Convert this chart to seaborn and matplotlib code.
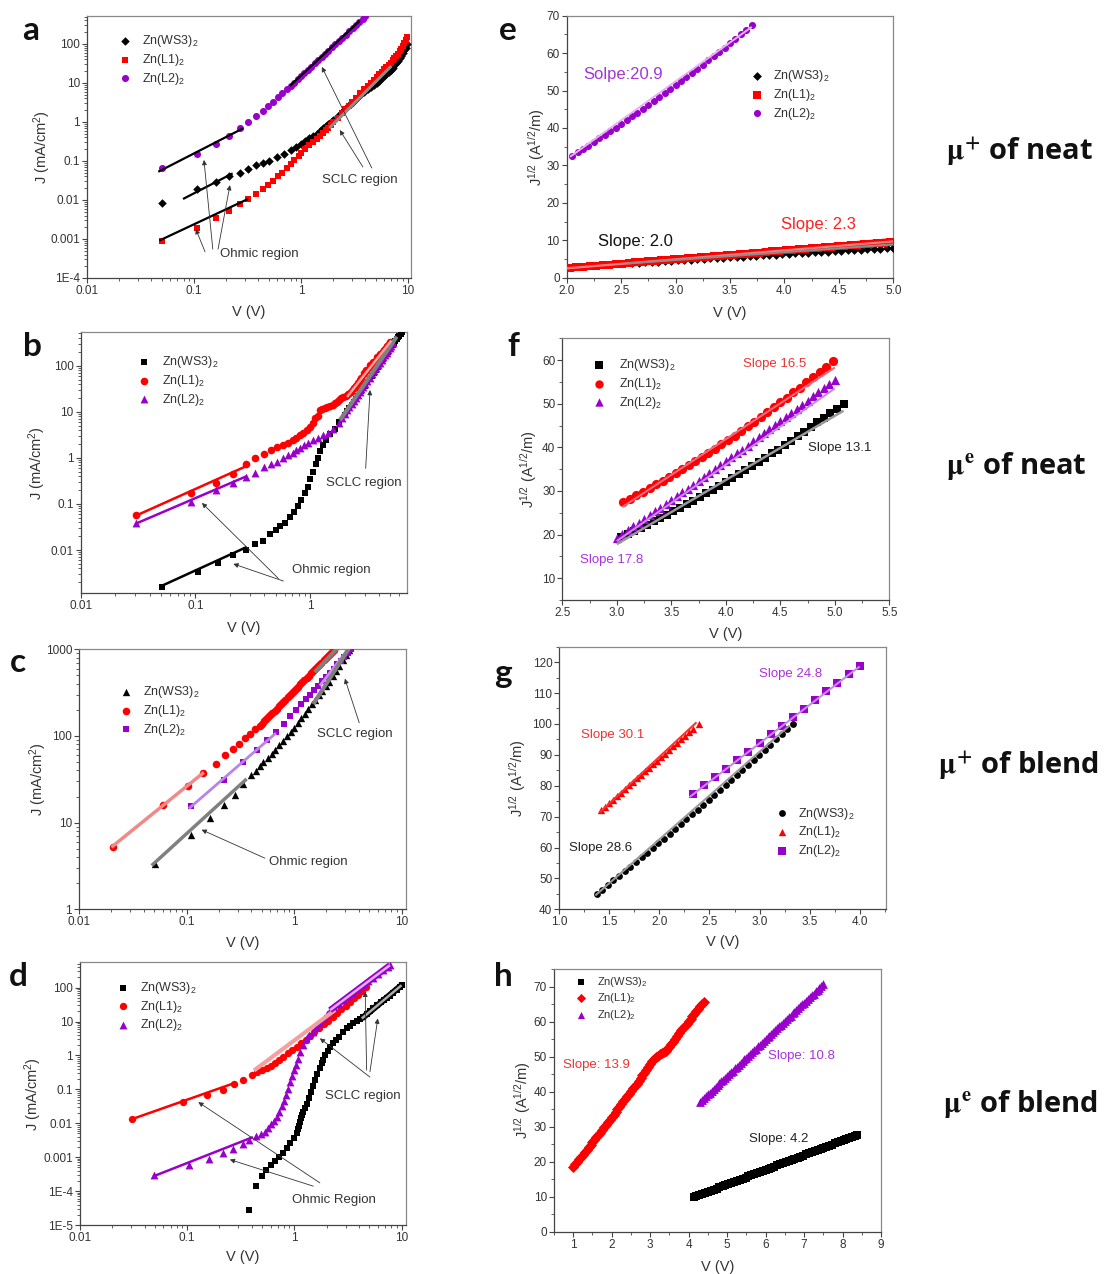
import matplotlib
matplotlib.use("Agg")
import matplotlib.pyplot as plt
import seaborn as sns
from matplotlib.ticker import LogLocator, NullFormatter, AutoMinorLocator

sns.set_theme(style="white")
plt.rcParams["font.family"] = ["Liberation Sans", "DejaVu Sans"]
plt.rcParams["mathtext.fontset"] = "custom"
plt.rcParams["mathtext.rm"] = "Liberation Sans"
plt.rcParams["mathtext.it"] = "Liberation Sans:italic"
plt.rcParams["mathtext.bf"] = "Liberation Sans:bold"

# ---------------- data ----------------
LABELS = ["Zn(WS3)$_2$", "Zn(L1)$_2$", "Zn(L2)$_2$"]

# panel a
a_ws3_v = [0.05, 0.106, 0.16, 0.214, 0.27, 0.32, 0.38, 0.44, 0.5, 0.6, 0.7, 0.8, 0.9, 1.0, 1.1, 1.2, 1.3, 1.4, 1.5, 1.6,
           1.7, 1.8, 1.9, 2.0, 2.2, 2.4, 2.6, 2.8, 3.0, 3.3, 3.6, 3.9, 4.2, 4.5, 4.8, 5.1, 5.4, 5.7, 6.0, 6.3, 6.6,
           6.9, 7.2, 7.5, 7.8, 8.1, 8.4, 8.7, 9.0, 9.3, 9.6, 9.9]
a_ws3_j = [0.0085, 0.0188, 0.029, 0.040, 0.050, 0.062, 0.079, 0.091, 0.10, 0.125, 0.155, 0.19, 0.23, 0.28, 0.33, 0.38,
           0.44, 0.50, 0.58, 0.68, 0.78, 0.9, 1.02, 1.15, 1.45, 1.8, 2.2, 2.65, 3.1, 3.9, 4.8, 5.8, 6.9, 7.8, 8.9,
           10.1, 11.5, 13, 14.8, 16.8, 19, 21.6, 24.6, 28, 32, 37, 43, 50, 58, 68, 80, 100]
a_l1_v = [0.05, 0.106, 0.16, 0.214, 0.27, 0.32, 0.38, 0.44, 0.49, 0.55, 0.61, 0.67, 0.74, 0.8, 0.87, 0.95, 1.0, 1.1,
          1.2, 1.3, 1.4, 1.5, 1.6, 1.7, 1.8, 1.9, 2.0, 2.2, 2.4, 2.6, 2.8, 3.0, 3.3, 3.6, 3.9, 4.2, 4.5, 4.8, 5.1,
          5.4, 5.7, 6.0, 6.3, 6.6, 6.9, 7.2, 7.5, 7.8, 8.1, 8.4, 8.7, 9.0, 9.3, 9.6, 9.9]
a_l1_j = [0.0009, 0.0019, 0.0034, 0.0052, 0.0079, 0.0104, 0.0143, 0.0195, 0.024, 0.031, 0.040, 0.050, 0.065, 0.084,
          0.106, 0.134, 0.157, 0.2, 0.25, 0.31, 0.37, 0.44, 0.52, 0.61, 0.72, 0.84, 0.98, 1.3, 1.68, 2.1, 2.6, 3.2,
          4.2, 5.4, 6.8, 8.3, 10, 12, 14.2, 16.6, 19.3, 22.3, 25.6, 29.3, 33.4, 38, 43, 49, 56, 64, 74, 90, 105,
          125, 150]
a_l2_v = [0.05, 0.106, 0.16, 0.214, 0.27, 0.32, 0.38, 0.44, 0.49, 0.55, 0.61, 0.67, 0.74, 0.8, 0.86, 0.93, 1.0, 1.08,
          1.16, 1.25, 1.35, 1.45, 1.56, 1.68, 1.81, 1.95, 2.1, 2.26, 2.43, 2.62, 2.82, 3.04, 3.27, 3.52, 3.79, 4.0]
a_l2_j = [0.065, 0.15, 0.27, 0.44, 0.69, 1.0, 1.4, 1.95, 2.57, 3.3, 4.3, 5.4, 6.9, 8.4, 10.1, 12.4, 14.9, 18.1, 21.7,
          26.3, 32, 38, 46, 56, 67, 82, 99, 119, 143, 173, 209, 253, 305, 368, 444, 510]

# panel b
b_ws3_v = [0.051, 0.106, 0.158, 0.214, 0.277, 0.33, 0.39, 0.445, 0.5, 0.55, 0.6, 0.667, 0.725, 0.78, 0.84, 0.9, 0.95,
           1.0, 1.06, 1.12, 1.17, 1.23, 1.3, 1.37, 1.49, 1.65, 1.8, 2.0, 2.1, 2.2, 2.3, 2.4, 2.5, 2.6, 2.7, 2.8, 2.9,
           3.0, 3.15, 3.3, 3.45, 3.6, 3.75, 3.9, 4.05, 4.2, 4.35, 4.5, 4.65, 4.8, 4.95, 5.1, 5.25, 5.4, 5.55, 5.7,
           5.85, 6.0, 6.15, 6.3]
b_ws3_j = [0.0016, 0.0033, 0.0053, 0.0077, 0.0102, 0.0133, 0.016, 0.022, 0.027, 0.033, 0.039, 0.052, 0.067, 0.089,
           0.12, 0.17, 0.23, 0.34, 0.5, 0.73, 1.0, 1.4, 1.9, 2.4, 3.3, 4.3, 5.9, 8.6, 10.2, 12.1, 14.2, 16.6, 19.2,
           22.1, 25.3, 28.9, 32.8, 37, 44, 52, 61, 71, 82, 95, 109, 124, 141, 159, 179, 201, 225, 250, 278, 307,
           339, 373, 410, 448, 490, 535]
b_l1_v = [0.0304, 0.091, 0.151, 0.214, 0.277, 0.33, 0.397, 0.454, 0.51, 0.575, 0.64, 0.705, 0.76, 0.81, 0.87, 0.93,
          1.0, 1.05, 1.11, 1.16, 1.23, 1.27, 1.34, 1.4, 1.5, 1.58, 1.65, 1.72, 1.8, 1.87, 1.95, 2.05, 2.15, 2.25, 2.4,
          2.5, 2.6, 2.7, 2.8, 2.95, 3.1, 3.3, 3.5, 3.8, 4.1, 4.4, 4.7, 5.0]
b_l1_j = [0.057, 0.173, 0.286, 0.44, 0.75, 1.0, 1.2, 1.47, 1.68, 1.92, 2.15, 2.42, 2.72, 3.1, 3.5, 4.0, 4.7, 5.8, 7.2,
          8.0, 10.9, 11.2, 11.8, 12.5, 13.3, 14.2, 15.2, 16.5, 18, 19.5, 21.2, 22.5, 24.2, 26.5, 32, 36, 42, 48.8,
          55, 68, 80, 103, 120, 151, 180, 219, 270, 331]
b_l2_v = [0.0304, 0.091, 0.151, 0.214, 0.277, 0.33, 0.397, 0.454, 0.51, 0.575, 0.64, 0.705, 0.76, 0.81, 0.88, 0.96,
          1.06, 1.17, 1.3, 1.43, 1.59, 1.77, 1.9, 2.0, 2.1, 2.2, 2.3, 2.4, 2.5, 2.6, 2.7, 2.8, 2.9, 3.0, 3.15, 3.3,
          3.45, 3.6, 3.75, 3.9, 4.05, 4.2, 4.35, 4.5, 4.65, 4.8, 4.95, 5.1, 5.3]
b_l2_j = [0.039, 0.11, 0.198, 0.286, 0.386, 0.48, 0.62, 0.73, 0.83, 0.97, 1.14, 1.28, 1.47, 1.65, 1.88, 2.12, 2.42,
          2.72, 3.06, 3.5, 4.3, 5.8, 7.4, 9.0, 10.7, 12.7, 14.9, 17.4, 20.2, 23.3, 26.7, 30.5, 34.6, 39.2, 46.8, 55,
          65.3, 76, 88, 102, 117, 133, 151, 171, 193, 217, 242, 270, 311]

# panel c
c_ws3_v = [0.0509, 0.109, 0.165, 0.222, 0.28, 0.337, 0.40, 0.44, 0.48, 0.52, 0.57, 0.62, 0.67, 0.73, 0.79, 0.86, 0.93,
           1.0, 1.08, 1.17, 1.26, 1.36, 1.47, 1.58, 1.7, 1.83, 1.97, 2.12, 2.28, 2.45, 2.63, 2.83, 3.04, 3.27]
c_ws3_j = [3.35, 7.24, 11.3, 15.8, 20.7, 27.7, 35, 39.9, 45, 49.9, 56.2, 62.6, 69.4, 78.6, 88.3, 100, 112, 125, 142,
           161, 181, 205, 232, 261, 295, 333, 376, 424, 489, 562, 647, 747, 860, 994]
c_l1_v = [0.0209, 0.061, 0.104, 0.143, 0.188, 0.228, 0.268, 0.31, 0.35, 0.39, 0.43, 0.48, 0.5, 0.525, 0.55, 0.575, 0.6,
          0.63, 0.66, 0.69, 0.72, 0.755, 0.79, 0.83, 0.87, 0.91, 0.95, 0.995, 1.04, 1.09, 1.14, 1.195, 1.25, 1.31,
          1.37, 1.435, 1.5, 1.57, 1.64, 1.72, 1.8, 1.885, 1.97, 2.06, 2.15, 2.25, 2.35]
c_l1_j = [5.3, 15.8, 26.2, 37.4, 48, 60, 71.6, 81.8, 94, 106, 119, 131, 138, 147, 156, 165, 174, 185, 196, 207, 219,
          233, 247, 263, 279, 295, 312, 330, 350, 371, 393, 417, 442, 468, 496, 526, 557, 590, 624, 662, 702, 744,
          787, 833, 880, 932, 985]
c_l2_v = [0.111, 0.223, 0.337, 0.449, 0.556, 0.68, 0.8, 0.92, 1.04, 1.16, 1.28, 1.4, 1.53, 1.67, 1.82, 1.98, 2.15,
          2.33, 2.52, 2.72, 2.93, 3.15, 3.4]
c_l2_j = [15.4, 30.8, 49.8, 69.7, 89, 111, 139, 168, 199, 231, 264, 299, 337, 380, 428, 480, 537, 600, 668, 741, 821,
          907, 1007]

# panel d
d_ws3_v = [0.38, 0.436, 0.494, 0.54, 0.6, 0.66, 0.72, 0.79, 0.85, 0.92, 1.0, 1.05, 1.075, 1.1, 1.125, 1.15, 1.175, 1.2,
           1.25, 1.3, 1.36, 1.43, 1.5, 1.56, 1.64, 1.72, 1.8, 1.86, 1.95, 2.05, 2.15, 2.31, 2.45, 2.6, 2.86, 3.1, 3.3,
           3.55, 3.8, 4.1, 4.4, 4.75, 5.1, 5.45, 5.9, 6.4, 6.8, 7.26, 7.8, 8.4, 9.0, 9.67, 10.2]
d_ws3_j = [2.7e-5, 1.37e-4, 2.7e-4, 4.3e-4, 5.7e-4, 7.5e-4, 1.0e-3, 1.35e-3, 1.9e-3, 2.7e-3, 3.6e-3, 5.0e-3, 6.6e-3,
           8.5e-3, 0.011, 0.014, 0.0175, 0.021, 0.029, 0.038, 0.055, 0.085, 0.13, 0.187, 0.28, 0.42, 0.6, 0.73, 1.0,
           1.35, 1.72, 2.26, 2.9, 3.6, 5.0, 6.3, 7.5, 8.8, 10.3, 12, 13.8, 17, 20.5, 24.3, 30, 37, 43, 48, 58, 72,
           88, 106, 120]
d_l1_v = [0.0303, 0.0905, 0.152, 0.214, 0.274, 0.33, 0.4, 0.45, 0.5, 0.55, 0.6, 0.66, 0.72, 0.79, 0.87, 0.95, 1.05,
          1.15, 1.27, 1.4, 1.54, 1.7, 1.87, 2.06, 2.27, 2.5, 2.75, 3.0, 3.3, 3.6, 3.95, 4.3, 4.7]
d_l1_j = [0.0135, 0.042, 0.066, 0.099, 0.146, 0.187, 0.257, 0.32, 0.38, 0.44, 0.5, 0.6, 0.73, 0.9, 1.15, 1.45, 1.8,
          2.3, 2.95, 3.8, 4.9, 6.3, 8.2, 10.6, 13.8, 17.8, 23, 29, 37, 48, 62, 80, 105]
d_l2_v = [0.049, 0.104, 0.159, 0.214, 0.27, 0.33, 0.38, 0.44, 0.49, 0.53, 0.57, 0.61, 0.65, 0.685, 0.72, 0.76, 0.8,
          0.84, 0.88, 0.92, 0.96, 1.0, 1.04, 1.08, 1.13, 1.2, 1.28, 1.38, 1.48, 1.6, 1.73, 1.87, 2.0, 2.15, 2.35, 2.6,
          2.9, 3.2, 3.55, 3.95, 4.4, 4.9, 5.45, 6.05, 6.75, 7.5, 7.8]
d_l2_j = [0.00029, 0.0006, 0.0009, 0.0013, 0.0018, 0.0025, 0.0033, 0.0042, 0.0047, 0.0056, 0.0072, 0.0093, 0.012,
          0.0155, 0.022, 0.032, 0.046, 0.068, 0.1, 0.16, 0.24, 0.37, 0.53, 0.78, 1.28, 2.0, 2.97, 4.0, 5.0, 6.8, 9.2,
          12.5, 16.5, 21.7, 26.8, 34, 44, 55.6, 71, 92, 119, 153, 196, 252, 328, 419, 461]

# panel e
e_ws3_v = [2.6, 2.66, 2.72, 2.78, 2.84, 2.9, 2.96, 3.02, 3.08, 3.14, 3.2, 3.26, 3.32, 3.38, 3.44, 3.5, 3.56, 3.62,
           3.68, 3.74, 3.8, 3.86, 3.92, 3.98, 4.04, 4.1, 4.16, 4.22, 4.28, 4.34, 4.4, 4.46, 4.52, 4.58, 4.64, 4.7,
           4.76, 4.82, 4.88, 4.94, 5.0]
e_ws3_j = [3.9, 4.0, 4.11, 4.21, 4.31, 4.41, 4.52, 4.62, 4.72, 4.82, 4.93, 5.03, 5.13, 5.23, 5.34, 5.44, 5.54, 5.64,
           5.75, 5.85, 5.95, 6.05, 6.16, 6.26, 6.36, 6.47, 6.57, 6.67, 6.77, 6.88, 6.98, 7.08, 7.18, 7.29, 7.39, 7.49,
           7.59, 7.7, 7.8, 7.9, 8.0]
e_l1_v = [2.03, 2.09, 2.15, 2.21, 2.27, 2.33, 2.39, 2.45, 2.51, 2.57, 2.63, 2.69, 2.75, 2.81, 2.87, 2.93, 2.99, 3.05,
          3.11, 3.17, 3.23, 3.29, 3.35, 3.41, 3.47, 3.53, 3.59, 3.65, 3.71, 3.77, 3.83, 3.89, 3.95, 4.01, 4.07, 4.13,
          4.19, 4.25, 4.31, 4.37, 4.43, 4.49, 4.55, 4.61, 4.67, 4.73, 4.79, 4.85, 4.91, 4.97]
e_l1_j = [2.67, 2.81, 2.95, 3.09, 3.23, 3.37, 3.51, 3.65, 3.79, 3.93, 4.07, 4.21, 4.35, 4.49, 4.63, 4.77, 4.91, 5.05,
          5.19, 5.33, 5.47, 5.61, 5.75, 5.89, 6.03, 6.17, 6.31, 6.44, 6.58, 6.72, 6.86, 7.0, 7.14, 7.28, 7.42, 7.56,
          7.7, 7.84, 7.98, 8.12, 8.26, 8.4, 8.54, 8.68, 8.82, 8.96, 9.1, 9.24, 9.38, 9.52]
e_l2_v = [2.05, 2.1, 2.15, 2.2, 2.25, 2.3, 2.35, 2.4, 2.45, 2.5, 2.55, 2.6, 2.65, 2.7, 2.75, 2.8, 2.85, 2.9, 2.95,
          3.0, 3.05, 3.1, 3.15, 3.2, 3.25, 3.3, 3.35, 3.4, 3.45, 3.5, 3.55, 3.6, 3.65, 3.7]
e_l2_j = [32.6, 33.5, 34.4, 35.3, 36.3, 37.2, 38.2, 39.1, 40.1, 41.1, 42.1, 43.1, 44.1, 45.1, 46.1, 47.2, 48.2, 49.3,
          50.3, 51.4, 52.5, 53.6, 54.7, 55.8, 56.9, 58.1, 59.2, 60.4, 61.5, 62.7, 63.9, 65.1, 66.3, 67.5]

# panel f
f_ws3_v = [3.04, 3.1, 3.16, 3.22, 3.28, 3.34, 3.4, 3.46, 3.52, 3.58, 3.64, 3.7, 3.76, 3.82, 3.88, 3.94, 4.0, 4.06,
           4.12, 4.18, 4.24, 4.3, 4.36, 4.42, 4.48, 4.54, 4.6, 4.66, 4.72, 4.78, 4.84, 4.9, 4.96, 5.02, 5.08]
f_ws3_j = [19.5, 20.2, 20.9, 21.6, 22.3, 23.1, 23.8, 24.6, 25.4, 26.2, 27.0, 27.8, 28.6, 29.5, 30.3, 31.2, 32.1, 33.0,
           33.9, 34.8, 35.7, 36.6, 37.6, 38.6, 39.5, 40.5, 41.5, 42.6, 43.6, 44.6, 45.7, 46.8, 47.8, 48.9, 50.0]
f_l1_v = [3.06, 3.12, 3.18, 3.24, 3.3, 3.36, 3.42, 3.48, 3.54, 3.6, 3.66, 3.72, 3.78, 3.84, 3.9, 3.96, 4.02, 4.08,
          4.14, 4.2, 4.26, 4.32, 4.38, 4.44, 4.5, 4.56, 4.62, 4.68, 4.74, 4.8, 4.86, 4.92, 4.98]
f_l1_j = [27.4, 28.2, 29.0, 29.8, 30.6, 31.5, 32.3, 33.2, 34.1, 35.0, 35.9, 36.9, 37.8, 38.8, 39.7, 40.7, 41.7, 42.7,
          43.8, 44.8, 45.9, 47.0, 48.1, 49.2, 50.3, 51.4, 52.6, 53.7, 54.9, 56.1, 57.3, 58.5, 59.7]
f_l2_v = [3.0, 3.05, 3.1, 3.15, 3.2, 3.25, 3.3, 3.35, 3.4, 3.45, 3.5, 3.55, 3.6, 3.65, 3.7, 3.75, 3.8, 3.85, 3.9,
          3.95, 4.0, 4.05, 4.1, 4.15, 4.2, 4.25, 4.3, 4.35, 4.4, 4.45, 4.5, 4.55, 4.6, 4.65, 4.7, 4.75, 4.8, 4.85,
          4.9, 4.95, 5.0]
f_l2_j = [19.3, 20.2, 21.0, 21.9, 22.7, 23.6, 24.4, 25.3, 26.2, 27.0, 27.9, 28.8, 29.7, 30.5, 31.4, 32.3, 33.2, 34.1,
          35.0, 35.9, 36.8, 37.7, 38.6, 39.5, 40.4, 41.4, 42.3, 43.2, 44.1, 45.1, 46.0, 46.9, 47.9, 48.8, 49.8, 50.7,
          51.7, 52.6, 53.6, 54.5, 55.5]

# panel g
g_ws3_v = [1.373, 1.429, 1.485, 1.541, 1.597, 1.653, 1.709, 1.765, 1.821, 1.877, 1.933, 1.989, 2.045, 2.101, 2.157,
           2.213, 2.269, 2.325, 2.381, 2.437, 2.493, 2.549, 2.605, 2.661, 2.717, 2.773, 2.829, 2.885, 2.941, 2.997,
           3.053, 3.109, 3.165, 3.221, 3.277, 3.333]
g_ws3_j = [45.0, 46.4, 47.9, 49.4, 50.9, 52.3, 53.8, 55.3, 56.8, 58.3, 59.9, 61.4, 62.9, 64.5, 66.0, 67.6, 69.1, 70.7,
           72.3, 73.8, 75.4, 77.0, 78.6, 80.2, 81.8, 83.5, 85.1, 86.7, 88.3, 90.0, 91.6, 93.3, 95.0, 96.6, 98.3, 100.0]
g_l1_v = [1.42, 1.46, 1.5, 1.54, 1.58, 1.62, 1.66, 1.7, 1.74, 1.78, 1.82, 1.86, 1.9, 1.94, 1.98, 2.02, 2.06, 2.1, 2.14,
          2.18, 2.22, 2.26, 2.3, 2.34, 2.4]
g_l1_j = [72.0, 73.2, 74.3, 75.5, 76.6, 77.8, 78.9, 80.1, 81.2, 82.4, 83.5, 84.7, 85.8, 87.0, 88.1, 89.3, 90.4, 91.6,
          92.7, 93.9, 95.0, 96.2, 97.3, 98.5, 100.0]
g_l2_v = [2.333, 2.444, 2.555, 2.667, 2.778, 2.889, 3.0, 3.111, 3.222, 3.333, 3.444, 3.555, 3.667, 3.778, 3.889, 4.0]
g_l2_j = [77.3, 80.1, 82.8, 85.4, 88.4, 90.9, 93.8, 96.7, 99.4, 102.1, 104.9, 107.6, 110.5, 113.2, 116.1, 118.6]

# panel h
h_ws3_v = [4.13, 4.2, 4.28, 4.35, 4.43, 4.5, 4.58, 4.65, 4.73, 4.8, 4.88, 4.95, 5.03, 5.1, 5.18, 5.25, 5.33, 5.4,
           5.48, 5.55, 5.63, 5.7, 5.78, 5.85, 5.93, 6.0, 6.08, 6.15, 6.23, 6.3, 6.38, 6.45, 6.53, 6.6, 6.68, 6.75,
           6.83, 6.9, 6.98, 7.05, 7.13, 7.2, 7.28, 7.35, 7.43, 7.5, 7.58, 7.65, 7.73, 7.8, 7.88, 7.95, 8.03, 8.1,
           8.18, 8.25, 8.33, 8.38]
h_ws3_j = [9.8, 10.1, 10.43, 10.74, 11.06, 11.37, 11.69, 12.0, 12.31, 12.63, 12.94, 13.26, 13.57, 13.89, 14.2, 14.52,
           14.83, 15.14, 15.46, 15.77, 16.09, 16.4, 16.71, 17.03, 17.34, 17.66, 17.97, 18.29, 18.6, 18.91, 19.23,
           19.54, 19.86, 20.17, 20.48, 20.8, 21.11, 21.43, 21.74, 22.06, 22.37, 22.68, 23.0, 23.31, 23.63, 23.94,
           24.26, 24.57, 24.88, 25.2, 25.51, 25.83, 26.14, 26.46, 26.77, 27.08, 27.4, 27.6]
h_l1_v = [1.0, 1.05, 1.1, 1.15, 1.2, 1.25, 1.3, 1.35, 1.4, 1.45, 1.5, 1.55, 1.6, 1.65, 1.7, 1.75, 1.8, 1.85, 1.9, 1.95,
          2.0, 2.05, 2.1, 2.15, 2.2, 2.25, 2.3, 2.35, 2.4, 2.45, 2.5, 2.55, 2.6, 2.65, 2.7, 2.75, 2.8, 2.85, 2.9,
          2.95, 3.0, 3.05, 3.1, 3.15, 3.2, 3.25, 3.3, 3.35, 3.4, 3.45, 3.5, 3.55, 3.6, 3.65, 3.7, 3.75, 3.8, 3.85,
          3.9, 3.95, 4.0, 4.05, 4.1, 4.15, 4.2, 4.25, 4.3, 4.35, 4.4]
h_l1_j = [18.6, 19.3, 20.0, 20.7, 21.4, 22.0, 22.7, 23.4, 24.1, 24.8, 25.5, 26.2, 26.9, 27.6, 28.3, 29.0, 29.8, 30.5,
          31.2, 31.9, 32.7, 33.4, 34.2, 34.9, 35.7, 36.4, 37.2, 37.9, 38.7, 39.4, 40.2, 40.9, 41.6, 42.3, 43.0, 43.8,
          44.6, 45.4, 46.3, 47.1, 48.0, 48.7, 49.4, 49.9, 50.3, 50.6, 51.0, 51.3, 51.7, 52.2, 52.8, 53.5, 54.2, 55.0,
          55.9, 56.7, 57.5, 58.1, 58.8, 59.4, 60.1, 60.8, 61.5, 62.2, 63.0, 63.7, 64.4, 65.0, 65.7]
h_l2_v = [4.3, 4.35, 4.4, 4.45, 4.5, 4.55, 4.6, 4.65, 4.7, 4.75, 4.8, 4.85, 4.9, 4.95, 5.0, 5.05, 5.1, 5.15, 5.2, 5.25,
          5.3, 5.35, 5.4, 5.45, 5.5, 5.55, 5.6, 5.65, 5.7, 5.75, 5.8, 5.85, 5.9, 5.95, 6.0, 6.05, 6.1, 6.15, 6.2,
          6.25, 6.3, 6.35, 6.4, 6.45, 6.5, 6.55, 6.6, 6.65, 6.7, 6.75, 6.8, 6.85, 6.9, 6.95, 7.0, 7.05, 7.1, 7.15,
          7.2, 7.25, 7.3, 7.35, 7.4, 7.45, 7.5]
h_l2_j = [37.1, 37.6, 38.2, 38.7, 39.2, 39.7, 40.3, 40.8, 41.3, 41.8, 42.4, 42.9, 43.4, 43.9, 44.5, 45.0, 45.5, 46.0,
          46.6, 47.1, 47.6, 48.1, 48.7, 49.2, 49.7, 50.2, 50.8, 51.3, 51.8, 52.3, 52.9, 53.4, 53.9, 54.4, 55.0, 55.5,
          56.0, 56.5, 57.0, 57.6, 58.1, 58.6, 59.1, 59.6, 60.2, 60.7, 61.2, 61.7, 62.3, 62.8, 63.3, 63.8, 64.4, 64.9,
          65.4, 65.9, 66.5, 67.0, 67.5, 68.0, 68.6, 69.1, 69.6, 70.1, 70.7]

# ---------------- figure helpers ----------------
W, H = 1111, 1274
fig = plt.figure(figsize=(W / 100, H / 100), dpi=100)
fig.patch.set_facecolor("white")

BLACK, RED, PURPLE = "#000000", "#ff0000", "#9900cc"
TXT = "#333333"


def make_ax(box, log):
    l, t, r, b = box
    ax = fig.add_axes([l / W, 1 - b / H, (r - l) / W, (b - t) / H])
    ax.set_facecolor("white")
    if log:
        ax.set_xscale("log")
        ax.set_yscale("log")
    for s in ["left", "bottom"]:
        ax.spines[s].set_color("#444444")
        ax.spines[s].set_linewidth(0.9)
    for s in ["top", "right"]:
        ax.spines[s].set_color("#888888")
        ax.spines[s].set_linewidth(0.9)
    ax.tick_params(which="both", direction="out", bottom=True, left=True, top=False, right=False,
                   colors="#444444", labelcolor=TXT, labelsize=8.5, pad=1.5)
    ax.tick_params(which="major", length=3.5, width=0.8)
    ax.tick_params(which="minor", length=2, width=0.6)
    ax.grid(False)
    return ax


def set_ticks(ax, box, log, xt, xtl, yt, ytl, xlim, ylim):
    ax.set_xticks(xt, xtl)
    ax.set_yticks(yt, ytl)
    if log:
        for axis in (ax.xaxis, ax.yaxis):
            axis.set_minor_locator(LogLocator(base=10, subs=[2, 3, 4, 5, 6, 7, 8, 9], numticks=30))
            axis.set_minor_formatter(NullFormatter())
    else:
        ax.xaxis.set_minor_locator(AutoMinorLocator(2))
        ax.yaxis.set_minor_locator(AutoMinorLocator(2))
    ax.set_xlim(*xlim)
    ax.set_ylim(*ylim)


def set_labels(ax, box, xl, yl, xlab_py, ylab_px):
    l, t, r, b = box
    ax.set_xlabel(xl, fontsize=10.5, color=TXT)
    ax.set_ylabel(yl, fontsize=10.5, color=TXT)
    ax.xaxis.label.set_va("center")
    ax.yaxis.label.set_va("center")
    ax.xaxis.set_label_coords(0.5, (b - xlab_py) / (b - t))
    ax.yaxis.set_label_coords((ylab_px - l) / (r - l), 0.5)


def pts(ax, x, y, marker, color, s):
    sns.scatterplot(x=x, y=y, ax=ax, marker=marker, color=color, s=s, linewidth=0, legend=False, zorder=3)
    return ax.collections[-1]


def fit(ax, xs, ys, color, lw, z=4):
    ax.plot(xs, ys, color=color, lw=lw, zorder=z, solid_capstyle="butt")


def legend(ax, handles, marker_px, text_px, first_row_py, fs, sizes=None):
    fs_px = fs * 100 / 72
    x0 = marker_px - fs_px / 2
    htp = (text_px - (x0 + fs_px)) / fs_px
    leg = ax.legend(handles, LABELS, loc="upper left", bbox_to_anchor=(x0 / W, 1 - (first_row_py - 8.5) / H),
                    bbox_transform=fig.transFigure, frameon=False, borderpad=0, borderaxespad=0,
                    handlelength=1.0, handletextpad=htp, labelspacing=0.22, fontsize=fs,
                    labelcolor=TXT, scatterpoints=1)
    if sizes is not None:
        for hnd, sz in zip(leg.legend_handles, sizes):
            hnd.set_sizes([sz])


def arrow(ax, tail, head):
    ax.annotate("", xy=head, xytext=tail,
                arrowprops=dict(arrowstyle="-|>", color="#333333", lw=0.6, mutation_scale=7,
                                shrinkA=0, shrinkB=0), zorder=6)


def note(ax, x, y, s, color=TXT, fs=9.5):
    ax.text(x, y, s, fontsize=fs, color=color, ha="left", va="center", zorder=7)


JLOG = "J (mA/cm$^2$)"
JSQ = "J$^{1/2}$ (A$^{1/2}$/m)"
VLAB = "V (V)"

# ---------------- panel a ----------------
box = (87, 16, 411, 278)
ax = make_ax(box, True)
h1 = pts(ax, a_ws3_v, a_ws3_j, "D", BLACK, 19)
h2 = pts(ax, a_l1_v, a_l1_j, "s", RED, 21)
h3 = pts(ax, a_l2_v, a_l2_j, "o", PURPLE, 26)
fit(ax, [0.0464, 0.289], [0.053, 0.69], BLACK, 1.6)
fit(ax, [0.079, 0.23], [0.0106, 0.048], BLACK, 1.6)
fit(ax, [0.0474, 0.32], [0.00091, 0.0106], BLACK, 1.6)
fit(ax, [0.79, 3.56], [8.4, 395], BLACK, 1.6)
fit(ax, [1.85, 7.0], [0.7, 27], "#8c8c8c", 2.2)
set_ticks(ax, box, True, [0.01, 0.1, 1, 10], ["0.01", "0.1", "1", "10"],
          [1e-4, 1e-3, 1e-2, 0.1, 1, 10, 100], ["1E-4", "0.001", "0.01", "0.1", "1", "10", "100"],
          (0.01, 10.7), (1e-4, 520))
set_labels(ax, box, VLAB, JLOG, 312, 42)
legend(ax, [h1, h2, h3], 125, 141.7, 41.7, 9)
note(ax, 0.175, 0.00041, "Ohmic region")
arrow(ax, (0.127, 0.00047), (0.104, 0.0018))
arrow(ax, (0.15, 0.00055), (0.124, 0.106))
arrow(ax, (0.168, 0.00055), (0.217, 0.024))
note(ax, 1.57, 0.033, "SCLC region")
arrow(ax, (3.8, 0.07), (2.31, 0.62))
arrow(ax, (4.6, 0.066), (1.57, 25.7))

# ---------------- panel b ----------------
box = (80.7, 332.3, 406.7, 593.3)
ax = make_ax(box, True)
h1 = pts(ax, b_ws3_v, b_ws3_j, "s", BLACK, 22)
h2 = pts(ax, b_l1_v, b_l1_j, "o", RED, 30)
h3 = pts(ax, b_l2_v, b_l2_j, "^", PURPLE, 32)
fit(ax, [0.049, 0.28], [0.0016, 0.0116], BLACK, 1.8)
fit(ax, [0.03, 0.27], [0.055, 0.64], RED, 1.8)
fit(ax, [0.03, 0.28], [0.037, 0.4], PURPLE, 1.8)
fit(ax, [2.1, 5.1], [21, 350], RED, 4.0)
fit(ax, [2.1, 5.1], [21, 350], "#f6a8a0", 1.8, z=5)
fit(ax, [1.82, 5.69], [6.6, 427], "#808080", 3.0)
set_ticks(ax, box, True, [0.01, 0.1, 1], ["0.01", "0.1", "1"],
          [0.01, 0.1, 1, 10, 100], ["0.01", "0.1", "1", "10", "100"],
          (0.01, 6.95), (0.00115, 530))
set_labels(ax, box, VLAB, JLOG, 628, 37)
legend(ax, [h1, h2, h3], 144, 161.7, 362.7, 9)
note(ax, 0.69, 0.0036, "Ohmic region")
arrow(ax, (0.585, 0.00212), (0.214, 0.005))
arrow(ax, (0.53, 0.0024), (0.114, 0.105))
note(ax, 1.38, 0.29, "SCLC region")
arrow(ax, (3.05, 0.59), (3.33, 29.6))

# ---------------- panel c ----------------
box = (79, 649.3, 406, 909.3)
ax = make_ax(box, True)
h1 = pts(ax, c_ws3_v, c_ws3_j, "^", BLACK, 28)
h2 = pts(ax, c_l1_v, c_l1_j, "o", RED, 30)
h3 = pts(ax, c_l2_v, c_l2_j, "s", PURPLE, 24)
fit(ax, [0.02, 0.145], [5.2, 38], "#f08a8a", 2.5)
fit(ax, [0.105, 0.68], [14.5, 108], "#b883ea", 2.0)
fit(ax, [0.0474, 0.362], [3.2, 31.9], "#808080", 2.5)
fit(ax, [1.56, 2.57], [543, 1050], "#808080", 3.0)
fit(ax, [1.74, 3.2], [381, 1010], "#c890f0", 2.0)
fit(ax, [1.51, 3.3], [233, 1060], "#808080", 3.0)
set_ticks(ax, box, True, [0.01, 0.1, 1, 10], ["0.01", "0.1", "1", "10"],
          [1, 10, 100, 1000], ["1", "10", "100", "1000"],
          (0.01, 11), (1, 1000))
set_labels(ax, box, VLAB, JLOG, 943, 38)
legend(ax, [h1, h2, h3], 126, 143.3, 692.7, 9)
note(ax, 0.588, 3.47, "Ohmic region")
arrow(ax, (0.536, 3.89), (0.138, 8.28))
note(ax, 1.64, 106, "SCLC region")
arrow(ax, (4.04, 142), (2.97, 458))

# ---------------- panel d ----------------
box = (80, 962.3, 406, 1225)
ax = make_ax(box, True)
h1 = pts(ax, d_ws3_v, d_ws3_j, "s", BLACK, 24)
h2 = pts(ax, d_l1_v, d_l1_j, "o", RED, 28)
h3 = pts(ax, d_l2_v, d_l2_j, "^", PURPLE, 32)
fit(ax, [0.03, 0.27], [0.013, 0.15], RED, 1.8)
fit(ax, [0.048, 0.41], [0.00027, 0.0039], PURPLE, 1.8)
fit(ax, [0.42, 2.4], [0.36, 22], "#f4a0a0", 3.0)
fit(ax, [2.15, 7.8], [21.7, 461], PURPLE, 4.5)
fit(ax, [2.15, 7.8], [21.7, 461], "#e2aef5", 1.8, z=5)
fit(ax, [4.25, 10], [12.3, 118], BLACK, 4.5)
fit(ax, [4.25, 10], [12.3, 118], "#aaaaaa", 1.8, z=5)
set_ticks(ax, box, True, [0.01, 0.1, 1, 10], ["0.01", "0.1", "1", "10"],
          [1e-5, 1e-4, 1e-3, 0.01, 0.1, 1, 10, 100],
          ["1E-5", "1E-4", "0.001", "0.01", "0.1", "1", "10", "100"],
          (0.01, 11), (1e-5, 560))
set_labels(ax, box, VLAB, JLOG, 1257, 33)
legend(ax, [h1, h2, h3], 123.3, 140, 988.3, 9)
note(ax, 0.955, 5.3e-5, "Ohmic Region")
arrow(ax, (1.5, 1.4e-4), (0.25, 8.5e-4))
arrow(ax, (1.73, 1.75e-4), (0.127, 0.042))
note(ax, 1.93, 0.063, "SCLC region")
arrow(ax, (5.07, 0.23), (1.73, 3.2))
arrow(ax, (4.72, 0.37), (4.58, 75.8))
arrow(ax, (5.07, 0.33), (6.0, 12.3))

# ---------------- panel e ----------------
box = (566.7, 15.7, 893.3, 277.7)
ax = make_ax(box, False)
h1 = pts(ax, e_ws3_v, e_ws3_j, "D", BLACK, 20)
h2 = pts(ax, e_l1_v, e_l1_j, "s", RED, 26)
h3 = pts(ax, e_l2_v, e_l2_j, "o", PURPLE, 26)
fit(ax, [2.0, 5.0], [2.5, 9.7], RED, 5.0)
fit(ax, [2.0, 5.0], [2.5, 9.7], "#f08080", 1.6, z=5)
fit(ax, [2.55, 5.0], [3.8, 8.9], "#8c8c8c", 1.5, z=5)
fit(ax, [2.03, 3.7], [32.3, 67.0], "#e8b0f0", 1.4, z=5)
set_ticks(ax, box, False, [2.0, 2.5, 3.0, 3.5, 4.0, 4.5, 5.0], ["2.0", "2.5", "3.0", "3.5", "4.0", "4.5", "5.0"],
          [0, 10, 20, 30, 40, 50, 60, 70], ["0", "10", "20", "30", "40", "50", "60", "70"],
          (2.0, 5.0), (0, 70))
set_labels(ax, box, VLAB, JSQ, 313, 537)
legend(ax, [h1, h2, h3], 756.7, 773.3, 76.7, 9)
note(ax, 2.15, 54.2, "Solpe:20.9", color="#a236d6", fs=12)
note(ax, 2.29, 9.6, "Slope: 2.0", color="#111111", fs=12)
note(ax, 3.97, 14.1, "Slope: 2.3", color="#ff2020", fs=12)

# ---------------- panel f ----------------
box = (562.3, 338.3, 889.3, 600)
ax = make_ax(box, False)
h1 = pts(ax, f_ws3_v, f_ws3_j, "s", BLACK, 36)
h2 = pts(ax, f_l1_v, f_l1_j, "o", RED, 44)
h3 = pts(ax, f_l2_v, f_l2_j, "^", PURPLE, 44)
fit(ax, [3.05, 5.0], [26.3, 58.3], "#f06a80", 1.5, z=5)
fit(ax, [3.0, 5.0], [18.5, 53.5], "#c58be8", 1.5, z=5)
fit(ax, [3.0, 5.08], [17.8, 48.4], "#999999", 1.8, z=5)
set_ticks(ax, box, False, [2.5, 3.0, 3.5, 4.0, 4.5, 5.0, 5.5], ["2.5", "3.0", "3.5", "4.0", "4.5", "5.0", "5.5"],
          [10, 20, 30, 40, 50, 60], ["10", "20", "30", "40", "50", "60"],
          (2.5, 5.5), (5, 65))
set_labels(ax, box, VLAB, JSQ, 634, 529)
legend(ax, [h1, h2, h3], 599, 619, 365.7, 9, sizes=[28, 36, 36])
note(ax, 4.154, 59.0, "Slope 16.5", color="#ee3333")
note(ax, 4.757, 39.8, "Slope 13.1", color="#222222")
note(ax, 2.662, 14.2, "Slope 17.8", color="#aa33dd")

# ---------------- panel g ----------------
box = (559.3, 646.7, 885.7, 909.3)
ax = make_ax(box, False)
h1 = pts(ax, g_ws3_v, g_ws3_j, "o", BLACK, 24)
h2 = pts(ax, g_l1_v, g_l1_j, "^", RED, 28)
h3 = pts(ax, g_l2_v, g_l2_j, "s", PURPLE, 26)
fit(ax, [1.4, 2.37], [71.3, 100.5], "#ff3030", 1.5, z=5)
fit(ax, [2.3, 4.0], [76.3, 118.6], "#c58be8", 1.5, z=5)
fit(ax, [1.36, 3.3], [44.5, 99.5], "#999999", 1.5, z=5)
set_ticks(ax, box, False, [1.0, 1.5, 2.0, 2.5, 3.0, 3.5, 4.0], ["1.0", "1.5", "2.0", "2.5", "3.0", "3.5", "4.0"],
          [40, 50, 60, 70, 80, 90, 100, 110, 120], ["40", "50", "60", "70", "80", "90", "100", "110", "120"],
          (1.0, 4.26), (40, 125))
set_labels(ax, box, VLAB, JSQ, 942, 518)
legend(ax, [h1, h2, h3], 781.7, 797.7, 814, 9)
note(ax, 2.99, 116.2, "Slope 24.8", color="#aa33dd")
note(ax, 1.217, 96.3, "Slope 30.1", color="#ee3333")
note(ax, 1.1, 60.0, "Slope 28.6", color="#222222")

# ---------------- panel h ----------------
box = (554, 969, 881, 1231.7)
ax = make_ax(box, False)
h1 = pts(ax, h_ws3_v, h_ws3_j, "s", BLACK, 40)
h2 = pts(ax, h_l1_v, h_l1_j, "D", RED, 32)
h3 = pts(ax, h_l2_v, h_l2_j, "^", PURPLE, 40)
set_ticks(ax, box, False, [1, 2, 3, 4, 5, 6, 7, 8, 9], ["1", "2", "3", "4", "5", "6", "7", "8", "9"],
          [0, 10, 20, 30, 40, 50, 60, 70], ["0", "10", "20", "30", "40", "50", "60", "70"],
          (0.5, 9.0), (0, 75))
set_labels(ax, box, VLAB, JSQ, 1267, 523)
legend(ax, [h1, h2, h3], 580.7, 596.7, 983.3, 8, sizes=[22, 22, 26])
note(ax, 0.74, 47.6, "Slope: 13.9", color="#ee3333")
note(ax, 6.07, 50.2, "Slope: 10.8", color="#aa33dd")
note(ax, 5.57, 26.5, "Slope: 4.2", color="#222222")

# ---------------- panel letters & side labels ----------------
for letter, x, y in [("a", 31, 30), ("b", 32, 347), ("c", 18, 662), ("d", 18, 977),
                     ("e", 508, 30), ("f", 513, 347), ("g", 503, 674), ("h", 503, 977)]:
    fig.text(x / W, 1 - y / H, letter, fontsize=24, fontweight="bold", family="Lato",
             ha="center", va="center", color="#111111")

for s, x, y in [(r"$\mathbf{\mu}^{\mathbf{+}}$ of neat", 1019, 160),
                (r"$\mathbf{\mu}^{\mathbf{e}}$ of neat", 1016, 474),
                (r"$\mathbf{\mu}^{\mathbf{+}}$ of blend", 1019, 774),
                (r"$\mathbf{\mu}^{\mathbf{e}}$ of blend", 1020, 1112)]:
    fig.text(x / W, 1 - y / H, s, fontsize=21, fontweight="bold", family="Open Sans",
             ha="center", va="baseline", color="#111111", math_fontfamily="stix")

fig.savefig("out.png", dpi=100, facecolor="white")
